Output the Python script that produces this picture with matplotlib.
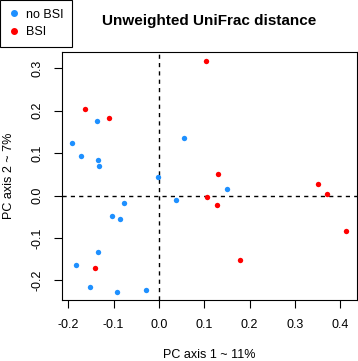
import numpy as np
import matplotlib.pyplot as plt
from matplotlib.lines import Line2D

plt.rcParams['font.family'] = ['Liberation Sans', 'DejaVu Sans']

# PCoA coordinates
nobsi_x = [-0.136, -0.191, -0.173, -0.135, -0.132, -0.003, 0.055, 0.037,
           -0.078, -0.104, -0.085, -0.135, -0.183, -0.153, -0.093, -0.028, 0.151]
nobsi_y = [0.175, 0.124, 0.093, 0.084, 0.070, 0.043, 0.136, -0.010,
           -0.018, -0.048, -0.055, -0.133, -0.163, -0.216, -0.227, -0.223, 0.016]
bsi_x = [-0.163, -0.110, 0.103, 0.131, -0.141, 0.352, 0.370, 0.107, 0.128, 0.413, 0.179]
bsi_y = [0.204, 0.183, 0.316, 0.051, -0.170, 0.027, 0.004, -0.004, -0.022, -0.084, -0.151]

xticks = [-0.2, -0.1, 0.0, 0.1, 0.2, 0.3, 0.4]
yticks = [-0.2, -0.1, 0.0, 0.1, 0.2, 0.3]

W, H = 358, 361
fig = plt.figure(figsize=(W / 100, H / 100), dpi=100)
ax = fig.add_axes([62 / W, 1 - 300 / H, (357 - 62) / W, (300 - 52) / H])

blue = '#1E90FF'
red = '#FF0000'
ax.scatter(nobsi_x, nobsi_y, s=15, color=blue, linewidths=0, zorder=3)
ax.scatter(bsi_x, bsi_y, s=15, color=red, linewidths=0, zorder=3)

ax.axvline(0, color='black', linestyle=(0, (3, 3)), linewidth=1)
ax.axhline(0, color='black', linestyle=(0, (3, 3)), linewidth=1)

ax.set_xlim(-0.214, 0.437)
ax.set_ylim(-0.246, 0.338)
ax.set_xticks(xticks)
ax.set_yticks(yticks)
ax.set_xticklabels(['%.1f' % v for v in xticks])
ax.set_yticklabels(['%.1f' % v for v in yticks], rotation=90, va='center')
ax.tick_params(axis='both', direction='out', length=5.5, width=0.8, labelsize=9)
ax.tick_params(axis='x', pad=8.5)
ax.tick_params(axis='y', pad=8)
for sp in ax.spines.values():
    sp.set_linewidth(0.8)

fig.text(209.5 / W, 1 - 21 / H, 'Unweighted UniFrac distance', ha='center', va='center',
         fontsize=11, fontweight='bold')
fig.text(209.5 / W, 1 - 355 / H, 'PC axis 1 ~ 11%', ha='center', va='center', fontsize=9)
fig.text(9 / W, 1 - 176 / H, 'PC axis 2 ~ 7%', ha='center', va='center', fontsize=9,
         rotation=90)

handles = [Line2D([], [], marker='o', linestyle='none', color=blue, markersize=4),
           Line2D([], [], marker='o', linestyle='none', color=red, markersize=4)]
leg = fig.legend(handles, ['no BSI', 'BSI'], loc='upper left', bbox_to_anchor=(0, 1),
                 bbox_transform=fig.transFigure, borderaxespad=0, fancybox=False,
                 edgecolor='black', fontsize=9, handlelength=0.8, handletextpad=0.55,
                 labelspacing=0.45, borderpad=0.7, framealpha=1)
leg.get_frame().set_linewidth(0.8)

fig.savefig('out.png', dpi=100)
